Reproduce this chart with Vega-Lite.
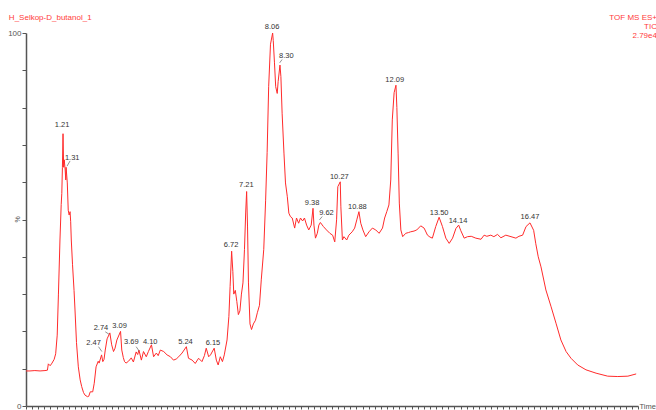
{
"$schema": "https://vega.github.io/schema/vega-lite/v6.json",
"width": 612, "height": 373,
"autosize": {"type": "none"},
"padding": {"left": 26, "top": 33, "right": 18, "bottom": 4},
"background": "white",
"config": {"view": {"stroke": null}, "font": "Liberation Sans"},
"datasets": {
"tic": [
{"t":0,"v":9.4},{"t":0.13,"v":9.4},{"t":0.29,"v":9.5},{"t":0.46,"v":9.4},{"t":0.62,"v":9.5},{"t":0.70,"v":9.6},{"t":0.73,"v":11.3},{"t":0.79,"v":10.8},{"t":0.85,"v":11.5},{"t":0.92,"v":12.5},{"t":0.97,"v":14.0},{"t":1.02,"v":19},{"t":1.06,"v":30},{"t":1.11,"v":44.5},{"t":1.15,"v":54},{"t":1.17,"v":57},{"t":1.19,"v":64},{"t":1.21,"v":73},{"t":1.23,"v":64},{"t":1.25,"v":66},{"t":1.28,"v":63.3},{"t":1.30,"v":60.6},{"t":1.31,"v":64},{"t":1.35,"v":59.8},{"t":1.38,"v":52.5},{"t":1.41,"v":51.2},{"t":1.44,"v":52.1},{"t":1.46,"v":49.4},{"t":1.48,"v":44.5},{"t":1.52,"v":38},{"t":1.57,"v":31},{"t":1.60,"v":26},{"t":1.65,"v":17},{"t":1.71,"v":10.5},{"t":1.77,"v":7},{"t":1.82,"v":5.2},{"t":1.88,"v":3.6},{"t":1.93,"v":2.9},{"t":2.01,"v":2.5},{"t":2.05,"v":2.6},{"t":2.10,"v":3.8},{"t":2.18,"v":3.8},{"t":2.23,"v":6.1},{"t":2.29,"v":10.5},{"t":2.36,"v":12.0},{"t":2.39,"v":11.5},{"t":2.47,"v":13.7},{"t":2.51,"v":11.9},{"t":2.55,"v":12.5},{"t":2.59,"v":15},{"t":2.65,"v":18},{"t":2.74,"v":19.6},{"t":2.80,"v":16.4},{"t":2.86,"v":14.6},{"t":2.91,"v":15.5},{"t":2.97,"v":17.7},{"t":3.09,"v":20.0},{"t":3.13,"v":15},{"t":3.18,"v":13},{"t":3.22,"v":11.9},{"t":3.27,"v":11.5},{"t":3.35,"v":12},{"t":3.44,"v":12.9},{"t":3.51,"v":11.8},{"t":3.60,"v":14.5},{"t":3.65,"v":13.8},{"t":3.69,"v":15.0},{"t":3.77,"v":12.3},{"t":3.84,"v":14.6},{"t":3.93,"v":13.2},{"t":4.00,"v":14.6},{"t":4.10,"v":16.4},{"t":4.17,"v":13.2},{"t":4.26,"v":14.2},{"t":4.32,"v":13.5},{"t":4.39,"v":15},{"t":4.50,"v":14.6},{"t":4.61,"v":13.7},{"t":4.72,"v":13.2},{"t":4.82,"v":12.3},{"t":4.91,"v":12.6},{"t":4.99,"v":13.2},{"t":5.10,"v":14.2},{"t":5.24,"v":15.9},{"t":5.31,"v":12.8},{"t":5.43,"v":12.3},{"t":5.53,"v":11.4},{"t":5.64,"v":12.8},{"t":5.75,"v":11.9},{"t":5.83,"v":13.5},{"t":5.89,"v":15.5},{"t":5.97,"v":13.2},{"t":6.03,"v":13.7},{"t":6.15,"v":15.5},{"t":6.22,"v":12.3},{"t":6.28,"v":11.0},{"t":6.35,"v":13.2},{"t":6.42,"v":11.9},{"t":6.48,"v":13.7},{"t":6.57,"v":17.7},{"t":6.63,"v":24},{"t":6.67,"v":32},{"t":6.72,"v":41.5},{"t":6.76,"v":36},{"t":6.79,"v":30},{"t":6.84,"v":31},{"t":6.89,"v":28},{"t":6.94,"v":24.5},{"t":6.99,"v":25.5},{"t":7.04,"v":30},{"t":7.09,"v":33},{"t":7.14,"v":42},{"t":7.18,"v":52},{"t":7.21,"v":57.5},{"t":7.24,"v":48},{"t":7.27,"v":33},{"t":7.32,"v":22},{"t":7.37,"v":20.5},{"t":7.43,"v":22},{"t":7.50,"v":23},{"t":7.56,"v":25},{"t":7.63,"v":27},{"t":7.69,"v":34},{"t":7.77,"v":42},{"t":7.83,"v":55},{"t":7.88,"v":68},{"t":7.93,"v":85.6},{"t":7.99,"v":97},{"t":8.06,"v":100},{"t":8.08,"v":98},{"t":8.12,"v":92},{"t":8.16,"v":85.6},{"t":8.21,"v":83.8},{"t":8.24,"v":87},{"t":8.30,"v":91.4},{"t":8.33,"v":88.3},{"t":8.37,"v":78.5},{"t":8.43,"v":67.8},{"t":8.48,"v":59.8},{"t":8.54,"v":56.1},{"t":8.59,"v":51.7},{"t":8.64,"v":50.8},{"t":8.70,"v":50.4},{"t":8.78,"v":47.7},{"t":8.84,"v":50.4},{"t":8.91,"v":49},{"t":8.97,"v":50.4},{"t":9.04,"v":49.6},{"t":9.10,"v":50.4},{"t":9.17,"v":48.5},{"t":9.24,"v":47.2},{"t":9.32,"v":48.5},{"t":9.38,"v":53},{"t":9.41,"v":48.5},{"t":9.46,"v":45},{"t":9.52,"v":46.3},{"t":9.57,"v":48.5},{"t":9.62,"v":49.2},{"t":9.72,"v":48.1},{"t":9.82,"v":47.2},{"t":9.93,"v":46.3},{"t":10.02,"v":45.8},{"t":10.09,"v":44},{"t":10.15,"v":49.9},{"t":10.19,"v":58.8},{"t":10.27,"v":60.1},{"t":10.29,"v":53.4},{"t":10.34,"v":44.5},{"t":10.39,"v":45.4},{"t":10.48,"v":44.5},{"t":10.55,"v":45.8},{"t":10.66,"v":46.7},{"t":10.74,"v":47.7},{"t":10.81,"v":49.9},{"t":10.88,"v":52.1},{"t":10.94,"v":49},{"t":11.01,"v":47.2},{"t":11.10,"v":45.4},{"t":11.21,"v":46.7},{"t":11.32,"v":47.7},{"t":11.43,"v":47.2},{"t":11.54,"v":46.3},{"t":11.65,"v":47.7},{"t":11.72,"v":50.4},{"t":11.79,"v":52.1},{"t":11.86,"v":53.9},{"t":11.92,"v":60.6},{"t":11.97,"v":76.7},{"t":12.03,"v":84},{"t":12.09,"v":86},{"t":12.12,"v":80},{"t":12.16,"v":67.8},{"t":12.20,"v":54.4},{"t":12.25,"v":47.2},{"t":12.31,"v":45.4},{"t":12.41,"v":46.3},{"t":12.50,"v":46.5},{"t":12.57,"v":46.7},{"t":12.68,"v":46.9},{"t":12.77,"v":47.2},{"t":12.90,"v":48.3},{"t":13.01,"v":47.7},{"t":13.12,"v":45.8},{"t":13.20,"v":45.3},{"t":13.28,"v":45},{"t":13.39,"v":48.1},{"t":13.50,"v":50.6},{"t":13.61,"v":48.1},{"t":13.72,"v":45},{"t":13.83,"v":43.6},{"t":13.94,"v":45},{"t":14.05,"v":47.6},{"t":14.14,"v":48.5},{"t":14.21,"v":47},{"t":14.32,"v":45},{"t":14.43,"v":45.4},{"t":14.55,"v":45.5},{"t":14.70,"v":45},{"t":14.87,"v":44.7},{"t":14.97,"v":45.8},{"t":15.06,"v":45.5},{"t":15.19,"v":45.8},{"t":15.29,"v":45.4},{"t":15.41,"v":46},{"t":15.52,"v":45.1},{"t":15.68,"v":45.8},{"t":15.85,"v":45.4},{"t":16.01,"v":45},{"t":16.11,"v":45.5},{"t":16.23,"v":45.8},{"t":16.34,"v":48.1},{"t":16.47,"v":49.1},{"t":16.59,"v":47.1},{"t":16.66,"v":43.5},{"t":16.74,"v":40},{"t":16.83,"v":37.3},{"t":16.99,"v":31.1},{"t":17.16,"v":26.6},{"t":17.32,"v":22.2},{"t":17.48,"v":17.7},{"t":17.65,"v":14.6},{"t":17.81,"v":12.8},{"t":18.03,"v":11},{"t":18.30,"v":9.7},{"t":18.63,"v":8.8},{"t":19.01,"v":8.0},{"t":19.34,"v":7.9},{"t":19.67,"v":8.0},{"t":19.94,"v":8.6}
],
"peaks": [
{"label":"1.21","lt":1.18,"lv":75.3},{"label":"1.31","lt":1.51,"lv":66.5},{"label":"2.47","lt":2.21,"lv":17.0},{"label":"2.74","lt":2.45,"lv":20.8},{"label":"3.09","lt":3.06,"lv":21.4},{"label":"3.69","lt":3.44,"lv":17.2},{"label":"4.10","lt":4.06,"lv":17.2},{"label":"5.24","lt":5.21,"lv":17.2},{"label":"6.15","lt":6.11,"lv":16.8},{"label":"6.72","lt":6.70,"lv":43.2},{"label":"7.21","lt":7.20,"lv":59.2},{"label":"8.06","lt":8.04,"lv":101.7},{"label":"8.30","lt":8.51,"lv":93.8},{"label":"9.38","lt":9.35,"lv":54.3},{"label":"9.62","lt":9.82,"lv":51.8},{"label":"10.27","lt":10.24,"lv":61.5},{"label":"10.88","lt":10.83,"lv":53.3},{"label":"12.09","lt":12.05,"lv":87.4},{"label":"13.50","lt":13.50,"lv":51.8},{"label":"14.14","lt":14.12,"lv":49.7},{"label":"16.47","lt":16.47,"lv":50.6}
],
"leaders": [
{"t1":1.34,"v1":64.3,"t2":1.44,"v2":65.7},{"t1":2.37,"v1":15.9,"t2":2.48,"v2":14.6},{"t1":2.59,"v1":19.9,"t2":2.72,"v2":19.2},{"t1":3.60,"v1":15.9,"t2":3.71,"v2":14.6},{"t1":8.37,"v1":92.9,"t2":8.29,"v2":92.0},{"t1":9.68,"v1":50.8,"t2":9.59,"v2":49.9}
]
},
"layer": [
{"data": {"name": "tic"},
 "mark": {"type": "line", "color": "#ff2b2b", "strokeWidth": 1},
 "encoding": {
  "x": {"field": "t", "type": "quantitative", "title": "Time", "scale": {"domain": [0, 20], "nice": false, "zero": false},
   "axis": {"labels": false, "tickCount": 100, "tickSize": 3, "tickColor": "#555", "domainColor": "#555", "domainWidth": 1.5, "grid": false, "titleX": 613, "titleY": 0, "titleAlign": "left", "titleBaseline": "middle", "titleAngle": 0, "titleFontSize": 7.5, "titleFontWeight": "normal", "titleColor": "#555"}},
  "y": {"field": "v", "type": "quantitative", "title": "%", "scale": {"domain": [0, 100], "nice": false},
   "axis": {"tickCount": 10, "labelExpr": "datum.value == 100 ? '100' : (datum.value == 0 ? '0' : '')", "labelFontSize": 8, "labelColor": "#555", "labelPadding": 1, "labelFlush": false, "labelOverlap": false, "tickSize": 4, "tickColor": "#555", "domainColor": "#555", "domainWidth": 1.5, "grid": false, "titleX": -9, "titleY": 186, "titleAngle": 270, "titleAlign": "center", "titleBaseline": "middle", "titleFontSize": 7, "titleFontWeight": "normal", "titleColor": "#555"}}
 }},
{"data": {"name": "leaders"},
 "mark": {"type": "rule", "color": "#777", "strokeWidth": 0.8},
 "encoding": {"x": {"field": "t1", "type": "quantitative", "title": "Time"}, "y": {"field": "v1", "type": "quantitative", "title": "%"}, "x2": {"field": "t2"}, "y2": {"field": "v2"}}},
{"data": {"name": "peaks"},
 "mark": {"type": "text", "fontSize": 7.5, "color": "#333", "align": "center", "baseline": "middle"},
 "encoding": {"x": {"field": "lt", "type": "quantitative", "title": "Time"}, "y": {"field": "lv", "type": "quantitative", "title": "%"}, "text": {"field": "label"}}},
{"data": {"values": [{}]},
 "mark": {"type": "text", "align": "left", "baseline": "middle", "fontSize": 8, "color": "#ff3b3b"},
 "encoding": {"x": {"datum": -0.56}, "y": {"datum": 104.0}, "text": {"value": "H_Selkop-D_butanol_1"}}},
{"data": {"values": [{}]},
 "mark": {"type": "text", "align": "right", "baseline": "top", "fontSize": 8, "color": "#ff3b3b", "lineBreak": "\n", "lineHeight": 9},
 "encoding": {"x": {"datum": 20.62}, "y": {"datum": 105.1}, "text": {"value": "TOF MS ES+\nTIC\n2.79e4"}}}
]
}
